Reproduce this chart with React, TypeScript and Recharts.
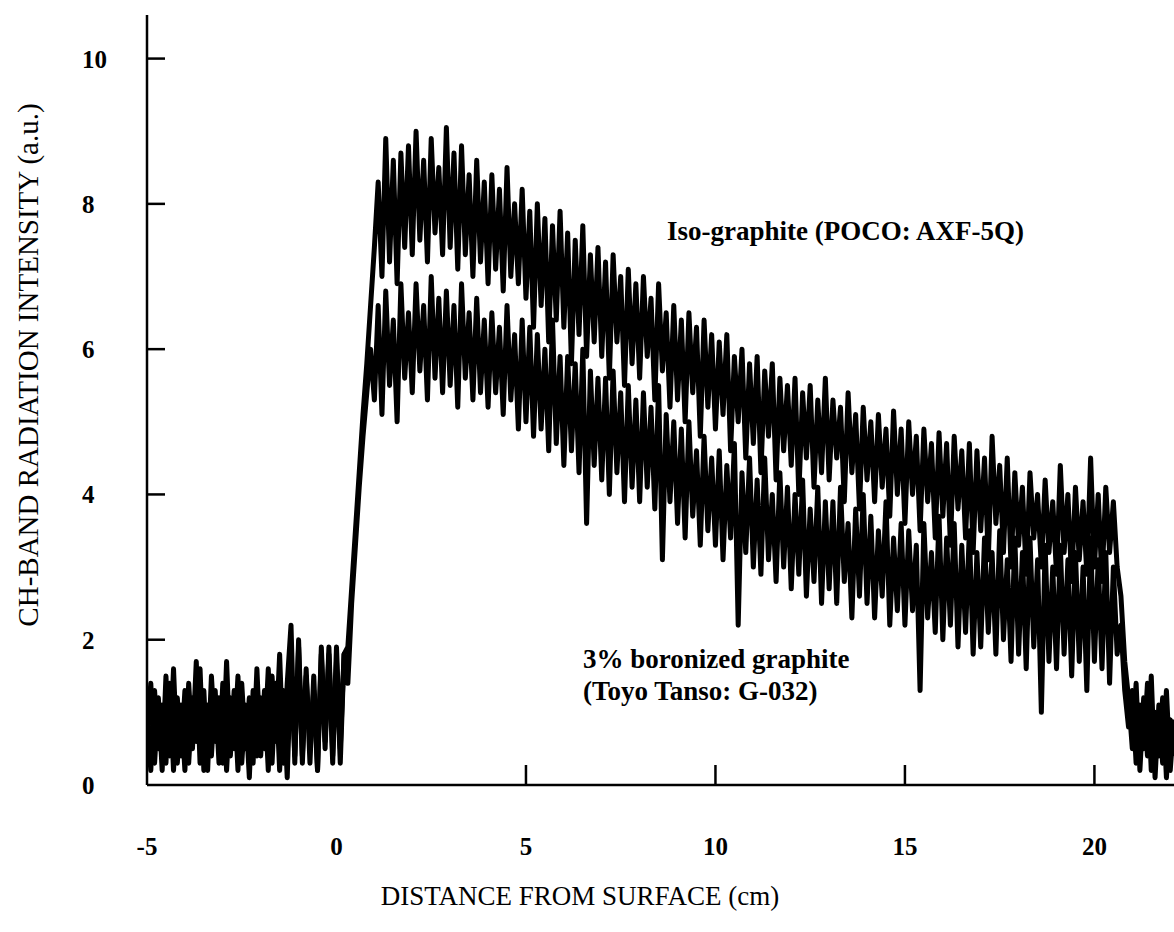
import { Line, LineChart, XAxis, YAxis } from "recharts";

// sampled every 0.1 cm starting at -5 cm
const xStart = -5;
const xStep = 0.1;

const isoGraphite = [
  0.7, 1.4, 0.3, 1.2, 0.2, 1.5, 0.4, 1.6, 0.3, 1.1,
  0.2, 1.4, 0.5, 1.7, 0.3, 1.3, 0.2, 1.5, 0.6, 1.2,
  0.3, 1.7, 0.4, 1.3, 0.2, 1.4, 0.5, 1.2, 0.3, 1.6,
  0.4, 1.3, 0.2, 1.5, 0.6, 1.8, 0.3, 1.4, 2.2, 0.3,
  2.0, 0.4, 1.6, 0.3, 1.5, 0.2, 1.9, 0.6, 1.8, 0.3,
  1.9, 0.5, 1.8, 1.9, 2.7, 3.5, 4.3, 5.1, 5.8, 6.6,
  7.4, 8.3, 7.0, 8.9, 7.2, 8.6, 6.9, 8.7, 7.4, 8.8,
  7.3, 9.0, 7.5, 8.6, 7.2, 8.9, 7.6, 8.5, 7.3, 9.05,
  7.4, 8.7, 7.1, 8.8, 7.3, 8.4, 7.0, 8.6, 7.2, 8.3,
  6.9, 8.4, 7.1, 8.2, 6.8, 8.5, 7.0, 8.0, 6.9, 8.2,
  6.7, 7.9, 6.3, 8.0, 6.6, 7.8, 6.1, 7.7, 6.4, 7.9,
  6.3, 7.6, 5.8, 7.5, 6.2, 7.7, 5.9, 7.3, 6.1, 7.4,
  5.9, 7.2, 5.6, 7.3, 6.1, 7.0, 5.5, 7.1, 5.8, 6.9,
  5.6, 7.0, 5.9, 6.7, 5.3, 6.9, 5.7, 6.5, 5.2, 6.6,
  5.3, 6.4, 5.0, 6.5, 5.4, 6.3, 4.8, 6.4, 5.2, 6.2,
  4.9, 6.1, 5.1, 6.2, 4.6, 5.9, 5.0, 6.0, 4.5, 5.8,
  4.7, 5.9, 4.3, 5.7, 4.8, 5.8, 4.2, 5.6, 4.6, 5.5,
  4.4, 5.6, 4.0, 5.4, 4.5, 5.5, 4.1, 5.3, 4.3, 5.6,
  4.2, 5.3, 4.5, 5.2, 3.9, 5.4, 4.3, 5.1, 3.8, 5.2,
  4.2, 5.0, 3.9, 5.1, 4.1, 4.9, 3.7, 5.15, 4.0, 4.9,
  3.6, 5.0, 4.0, 4.8, 3.5, 4.9, 3.9, 4.7, 3.4, 4.85,
  3.7, 4.7, 3.3, 4.8, 3.8, 4.6, 3.4, 4.7, 3.2, 4.6,
  3.5, 4.5, 3.1, 4.8, 3.6, 4.4, 3.2, 4.5, 3.0, 4.3,
  3.3, 4.1, 2.9, 4.3, 3.4, 4.0, 3.0, 4.2, 3.2, 3.9,
  2.9, 4.4, 3.2, 4.0, 2.8, 4.1, 3.1, 3.9, 2.9, 4.5,
  3.0, 4.0, 2.8, 4.1, 3.2, 3.9, 3.0, 2.6, 1.7, 1.2,
  0.5, 1.4, 0.2, 1.2, 0.4, 1.5, 0.1, 1.1, 0.3, 1.3,
  0.2, 0.9,
];

const boronized = [
  1.0, 0.2, 1.3, 0.5, 1.1, 0.3, 1.4, 0.2, 1.2, 0.4,
  1.3, 0.3, 1.2, 0.6, 1.6, 0.2, 1.1, 0.4, 1.3, 0.3,
  1.4, 0.2, 1.2, 0.5, 1.5, 0.3, 1.1, 0.1, 1.3, 0.4,
  1.2, 0.5, 1.6, 0.3, 1.4, 0.2, 1.3, 0.1, 1.7, 0.4,
  1.9, 0.3, 1.5, 0.6, 1.3, 0.2, 1.8, 0.5, 1.9, 0.4,
  1.7, 0.3, 1.8, 1.4, 2.5, 3.3, 4.1, 4.8, 5.4, 6.0,
  5.3, 6.6, 5.1, 6.8, 5.5, 6.4, 5.0, 6.9, 5.6, 6.5,
  5.4, 6.9, 5.7, 6.6, 5.3, 7.0, 5.6, 6.7, 5.4, 6.8,
  5.5, 6.6, 5.2, 6.9, 5.6, 6.5, 5.3, 6.7, 5.4, 6.4,
  5.2, 6.5, 5.4, 6.3, 5.1, 6.6, 5.3, 6.2, 4.9, 6.4,
  5.0, 6.3, 4.8, 6.2, 4.9, 6.0, 4.6, 6.4, 4.7, 5.9,
  4.4, 5.9, 4.6, 5.8, 4.3, 6.0, 3.6, 5.7, 4.4, 5.6,
  4.2, 5.6, 4.0, 5.7, 4.3, 5.4, 3.9, 5.5, 4.1, 5.3,
  3.9, 5.4, 4.1, 5.2, 3.8, 5.5, 3.1, 5.1, 3.9, 5.0,
  3.6, 4.9, 3.4, 5.0, 3.7, 4.6, 3.3, 4.8, 3.5, 4.5,
  3.3, 4.6, 3.1, 4.4, 3.4, 4.7, 2.2, 4.3, 3.2, 4.5,
  3.0, 4.2, 2.9, 4.5, 3.1, 4.0, 2.8, 4.3, 3.0, 4.1,
  2.7, 4.0, 2.9, 4.2, 2.6, 3.8, 2.8, 4.1, 2.5, 3.9,
  2.7, 3.9, 2.5, 4.1, 2.8, 3.6, 2.3, 3.8, 2.6, 4.0,
  2.5, 3.7, 2.3, 3.5, 2.6, 3.9, 2.2, 3.4, 2.4, 3.6,
  2.2, 3.5, 2.4, 3.3, 1.3, 3.6, 2.3, 3.2, 2.1, 3.7,
  2.0, 3.4, 2.2, 3.6, 1.9, 3.3, 2.1, 3.5, 1.8, 3.2,
  1.9, 3.4, 2.1, 3.2, 1.8, 3.5, 2.0, 3.1, 1.7, 3.4,
  1.8, 3.2, 1.6, 3.4, 1.9, 3.1, 1.0, 3.3, 1.7, 3.0,
  1.6, 3.3, 1.8, 3.1, 1.5, 3.2, 1.7, 3.0, 1.3, 3.4,
  1.7, 3.1, 1.6, 3.2, 1.4, 3.0, 1.8, 2.2, 1.3, 0.8,
  1.3, 0.3, 1.1, 0.5, 1.4, 0.2, 1.0, 0.4, 1.2, 0.1,
  0.9, 0.4,
];

const xTicks = [-5, 0, 5, 10, 15, 20];
const yTicks = [0, 2, 4, 6, 8, 10];

const data = isoGraphite.map((v, i) => ({
  x: Math.round((xStart + i * xStep) * 10) / 10,
  iso: v,
  bor: boronized[i],
}));

const serif = "'Liberation Serif', 'Times New Roman', serif";

function XTick(props: any) {
  const { x, y, payload } = props;
  const v = payload.value;
  return (
    <g>
      {v > 0 && <line x1={x} y1={y} x2={x} y2={y - 20} stroke="#000" strokeWidth={2.5} />}
      <text x={x} y={y + 70} textAnchor="middle" fontFamily={serif} fontWeight="bold" fontSize={25} fill="#000">
        {v}
      </text>
    </g>
  );
}

function YTick(props: any) {
  const { x, y, payload } = props;
  const v = payload.value;
  return (
    <g>
      {v > 0 && <line x1={x} y1={y} x2={x + 18} y2={y} stroke="#000" strokeWidth={2.5} />}
      <text x={82} y={y + 9} textAnchor="start" fontFamily={serif} fontWeight="bold" fontSize={25} fill="#000">
        {v}
      </text>
    </g>
  );
}

export default function App() {
  return (
    <div style={{ position: "absolute", left: 0, top: 0, width: 1174, height: 932, background: "#fff" }}>
      <LineChart width={1174} height={932} data={data} margin={{ top: 15, right: 0, bottom: 0, left: 0 }}>
        <XAxis
          dataKey="x"
          type="number"
          domain={[-5, 22.1]}
          ticks={xTicks}
          allowDataOverflow
          height={147}
          tickSize={0}
          tickMargin={0}
          tickLine={false}
          axisLine={{ stroke: "#000", strokeWidth: 2.5 }}
          tick={<XTick />}
        />
        <YAxis
          type="number"
          domain={[0, 10.6]}
          ticks={yTicks}
          allowDataOverflow
          width={147}
          tickSize={0}
          tickMargin={0}
          tickLine={false}
          axisLine={{ stroke: "#000", strokeWidth: 2.5 }}
          tick={<YTick />}
        />
        <Line dataKey="bor" type="linear" stroke="#000" strokeWidth={5} strokeLinejoin="round" dot={false} isAnimationActive={false} />
        <Line dataKey="iso" type="linear" stroke="#000" strokeWidth={5} strokeLinejoin="round" dot={false} isAnimationActive={false} />
      </LineChart>
      <svg
        width={1174}
        height={932}
        style={{ position: "absolute", left: 0, top: 0, pointerEvents: "none" }}
      >
        <g fontFamily={serif} fill="#000">
          <text x={667} y={240} fontSize={27} fontWeight="bold">Iso-graphite (POCO: AXF-5Q)</text>
          <text x={583} y={668} fontSize={27} fontWeight="bold">3% boronized graphite</text>
          <text x={583} y={700} fontSize={27} fontWeight="bold">(Toyo Tanso: G-032)</text>
          <text x={580} y={905} fontSize={27} textAnchor="middle">DISTANCE FROM SURFACE (cm)</text>
          <text
            x={0}
            y={0}
            fontSize={29}
            textAnchor="middle"
            dominantBaseline="central"
            transform="translate(28,365) rotate(-90)"
          >
            CH-BAND RADIATION INTENSITY (a.u.)
          </text>
        </g>
      </svg>
    </div>
  );
}
